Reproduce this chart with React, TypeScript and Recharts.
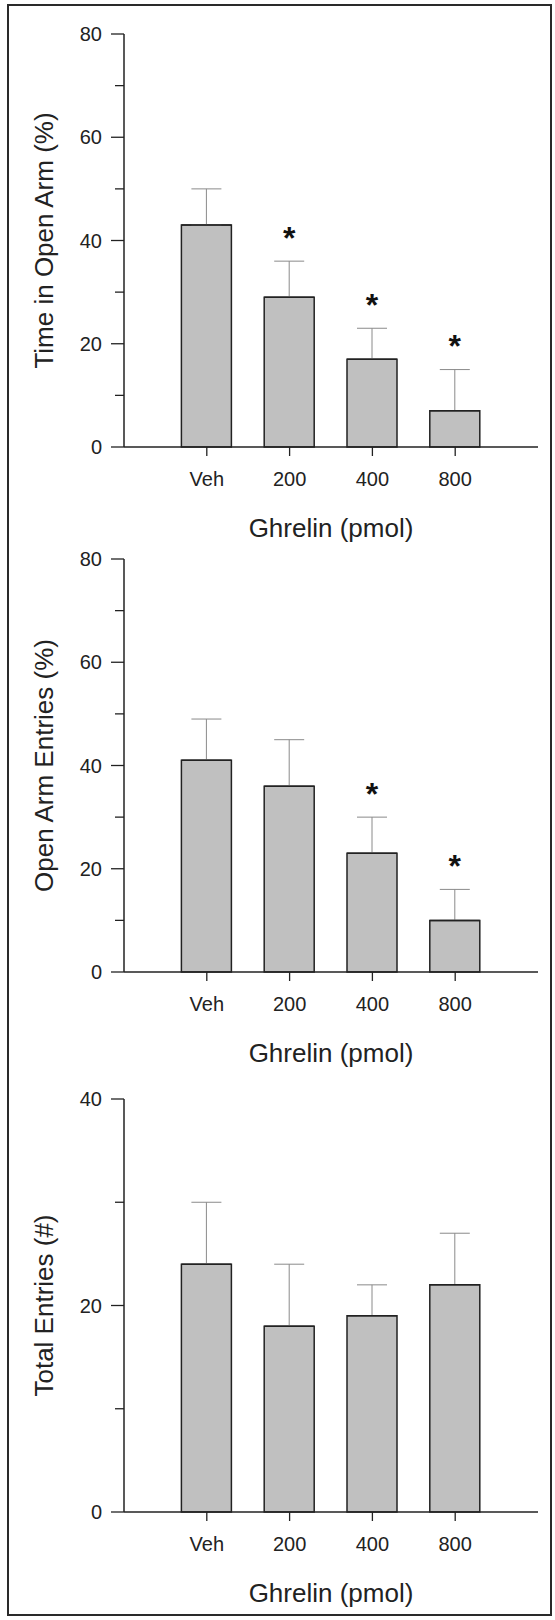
import { BarChart, Bar, XAxis, YAxis, ErrorBar, LabelList } from 'recharts'

const CATEGORIES = ['Veh', '200', '400', '800']

const TIME_MEAN = [43, 29, 17, 7]
const TIME_SEM = [7, 7, 6, 8]
const TIME_SIG = [false, true, true, true]

const ENTRIES_MEAN = [41, 36, 23, 10]
const ENTRIES_SEM = [8, 9, 7, 6]
const ENTRIES_SIG = [false, false, true, true]

const TOTAL_MEAN = [24, 18, 19, 22]
const TOTAL_SEM = [6, 6, 3, 5]
const TOTAL_SIG = [false, false, false, false]

const PCT_TICKS = [0, 10, 20, 30, 40, 50, 60, 70, 80]
const COUNT_TICKS = [0, 10, 20, 30, 40]

const FONT = '"Liberation Sans", Arial, sans-serif'
const INK = '#222'

const YTick = (props: any) => {
  const { x, y, payload } = props
  const major = payload.value % 20 === 0
  return (
    <g>
      <line x1={x - (major ? 13 : 9)} x2={x} y1={y} y2={y} stroke={INK} strokeWidth={1.3} />
      {major && (
        <text x={x - 22} y={y} textAnchor="end" dominantBaseline="central" fontSize={20} fill={INK} fontFamily={FONT}>
          {payload.value}
        </text>
      )}
    </g>
  )
}

const XTick = (props: any) => {
  const { x, y, payload } = props
  return (
    <g>
      <line x1={x} x2={x} y1={y} y2={y + 9} stroke={INK} strokeWidth={1.3} />
      <text x={x} y={y + 39} textAnchor="middle" fontSize={20} fill={INK} fontFamily={FONT}>
        {payload.value}
      </text>
    </g>
  )
}

interface PanelProps {
  top: number
  yTitle: string
  means: number[]
  sems: number[]
  sig: boolean[]
  ticks: number[]
}

function Panel({ top, yTitle, means, sems, sig, ticks }: PanelProps) {
  const data = CATEGORIES.map((c, i) => ({
    dose: c,
    mean: means[i],
    err: [0, sems[i]],
    star: sig[i] ? '*' : '-',
  }))

  // redraw the bar's top edge over the error bar's lower cap, then the asterisk
  const renderTop = (props: any) => {
    const { x, y, width, height, index, value } = props
    const perUnit = height / data[index].mean
    const whiskerTop = y - sems[index] * perUnit
    const cy = whiskerTop - 30
    return (
      <g>
        <line x1={x} x2={x + width} y1={y} y2={y} stroke={INK} strokeWidth={1.5} />
        {value === '*' && (
          <text x={x + width / 2} y={cy + 0.55 * 32} textAnchor="middle" fontSize={32} fontWeight="bold" fill="#111" fontFamily={FONT}>
            *
          </text>
        )}
      </g>
    )
  }

  return (
    <div style={{ position: 'absolute', left: 0, top }}>
      <BarChart width={555} height={547} data={data} margin={{ top: 34, right: 17, left: 0, bottom: 0 }}>
        <XAxis
          dataKey="dose"
          height={100}
          padding={{ left: 41.4, right: 41.4 }}
          axisLine={{ stroke: INK, strokeWidth: 1.5 }}
          tickLine={false}
          tickSize={0}
          tickMargin={0}
          interval={0}
          tick={<XTick />}
          label={{
            content: (p: any) => {
              const vb = p.viewBox
              return (
                <text x={vb.x + vb.width / 2} y={vb.y + 90} textAnchor="middle" fontSize={26} fill={INK} fontFamily={FONT}>
                  Ghrelin (pmol)
                </text>
              )
            },
          }}
        />
        <YAxis
          width={124}
          domain={[0, ticks[ticks.length - 1]]}
          ticks={ticks}
          interval={0}
          axisLine={{ stroke: INK, strokeWidth: 1.5 }}
          tickLine={false}
          tickSize={0}
          tickMargin={0}
          tick={<YTick />}
          label={{
            content: (p: any) => {
              const vb = p.viewBox
              const cy = vb.y + vb.height / 2
              return (
                <text
                  x={44}
                  y={cy}
                  transform={`rotate(-90, 44, ${cy})`}
                  textAnchor="middle"
                  dominantBaseline="central"
                  fontSize={26}
                  fill={INK}
                  fontFamily={FONT}
                >
                  {yTitle}
                </text>
              )
            },
          }}
        />
        <Bar dataKey="mean" fill="#c0c0c0" stroke={INK} strokeWidth={1.5} barSize={50} isAnimationActive={false}>
          <ErrorBar dataKey="err" direction="y" width={15} stroke="#8a8a8a" strokeWidth={1} />
          <LabelList dataKey="star" content={renderTop} />
        </Bar>
      </BarChart>
    </div>
  )
}

export default function App() {
  return (
    <div style={{ position: 'absolute', left: 0, top: 0, width: 555, height: 1620, background: '#fff' }}>
      <div
        style={{
          position: 'absolute',
          left: 7,
          top: 4,
          width: 545,
          height: 1612,
          border: '2px solid #2a2a2a',
          boxSizing: 'border-box',
        }}
      />
      <Panel top={0} yTitle="Time in Open Arm (%)" means={TIME_MEAN} sems={TIME_SEM} sig={TIME_SIG} ticks={PCT_TICKS} />
      <Panel top={525} yTitle="Open Arm Entries (%)" means={ENTRIES_MEAN} sems={ENTRIES_SEM} sig={ENTRIES_SIG} ticks={PCT_TICKS} />
      <Panel top={1065} yTitle="Total Entries (#)" means={TOTAL_MEAN} sems={TOTAL_SEM} sig={TOTAL_SIG} ticks={COUNT_TICKS} />
    </div>
  )
}
